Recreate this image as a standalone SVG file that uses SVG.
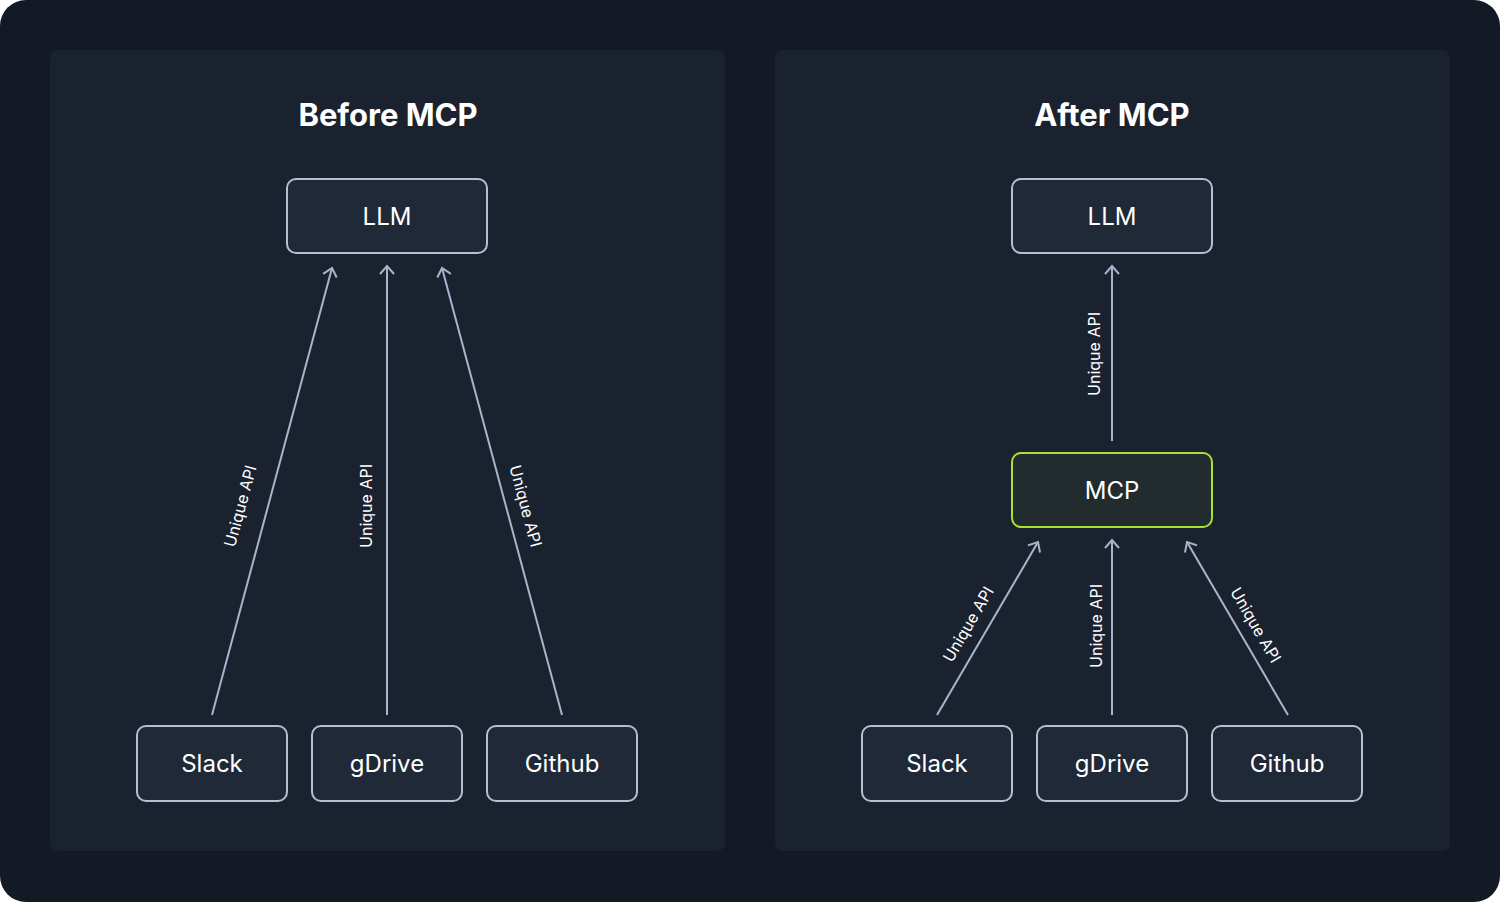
<svg xmlns="http://www.w3.org/2000/svg" width="1500" height="902" viewBox="0 0 1500 902">
<defs>
<marker id="ah" markerWidth="20" markerHeight="20" refX="10" refY="10" orient="auto" markerUnits="userSpaceOnUse">
<path d="M2,3 L10,10 L2,17" fill="none" stroke="#a9b4cc" stroke-width="2"/>
</marker>
<style>
.panel{fill:#1a2230}
.node rect{fill:#1f2938;stroke:#b4bfd3;stroke-width:2}
.node text{fill:#ffffff;font-family:Inter,"Liberation Sans",sans-serif;font-size:24px;text-anchor:middle;dominant-baseline:central}
.title{fill:#ffffff;font-family:Inter,"Liberation Sans",sans-serif;font-size:31px;font-weight:bold;text-anchor:middle}
.c line{stroke:#a9b4cc;stroke-width:2;marker-end:url(#ah)}
.lbl{fill:#ffffff;font-family:Inter,"Liberation Sans",sans-serif;font-size:16px;text-anchor:middle;dominant-baseline:central}
</style>
</defs>
<rect width="1500" height="902" fill="#ffffff"/>
<rect width="1500" height="902" rx="26" fill="#131a26"/>
<rect class="panel" x="50" y="50" width="675" height="801" rx="8"/>
<rect class="panel" x="775" y="50" width="675" height="801" rx="8"/>
<text class="title" x="388" y="126">Before MCP</text>
<text class="title" x="1112" y="126">After MCP</text>
<g class="c">
<line x1="212" y1="715" x2="332" y2="268"/>
<line x1="387" y1="715" x2="387" y2="266"/>
<line x1="562" y1="715" x2="442" y2="268"/>
<line x1="1112" y1="441" x2="1112" y2="266"/>
<line x1="937" y1="715" x2="1038" y2="542"/>
<line x1="1112" y1="715" x2="1112" y2="540"/>
<line x1="1288" y1="715" x2="1187" y2="542"/>
<text class="lbl" transform="translate(240,506) rotate(-74.9)">Unique API</text>
<text class="lbl" transform="translate(366,506) rotate(-90)">Unique API</text>
<text class="lbl" transform="translate(526,506) rotate(74.9)">Unique API</text>
<text class="lbl" transform="translate(1094,354) rotate(-90)">Unique API</text>
<text class="lbl" transform="translate(968,624) rotate(-59.7)">Unique API</text>
<text class="lbl" transform="translate(1096,626) rotate(-90)">Unique API</text>
<text class="lbl" transform="translate(1256,625) rotate(59.7)">Unique API</text>
</g>
<g id="llm1" class="node"><rect x="287" y="179" width="200" height="74" rx="9"/><text x="387" y="216">LLM</text></g>
<g id="slack1" class="node"><rect x="137" y="726" width="150" height="75" rx="9"/><text x="212" y="763">Slack</text></g>
<g id="gdrive1" class="node"><rect x="312" y="726" width="150" height="75" rx="9"/><text x="387" y="763">gDrive</text></g>
<g id="github1" class="node"><rect x="487" y="726" width="150" height="75" rx="9"/><text x="562" y="763">Github</text></g>
<g id="llm2" class="node"><rect x="1012" y="179" width="200" height="74" rx="9"/><text x="1112" y="216">LLM</text></g>
<g id="mcp" class="node"><rect x="1012" y="453" width="200" height="74" rx="9" style="fill:#222c2e;stroke:#a6e22e"/><text x="1112" y="490">MCP</text></g>
<g id="slack2" class="node"><rect x="862" y="726" width="150" height="75" rx="9"/><text x="937" y="763">Slack</text></g>
<g id="gdrive2" class="node"><rect x="1037" y="726" width="150" height="75" rx="9"/><text x="1112" y="763">gDrive</text></g>
<g id="github2" class="node"><rect x="1212" y="726" width="150" height="75" rx="9"/><text x="1287" y="763">Github</text></g>
</svg>
